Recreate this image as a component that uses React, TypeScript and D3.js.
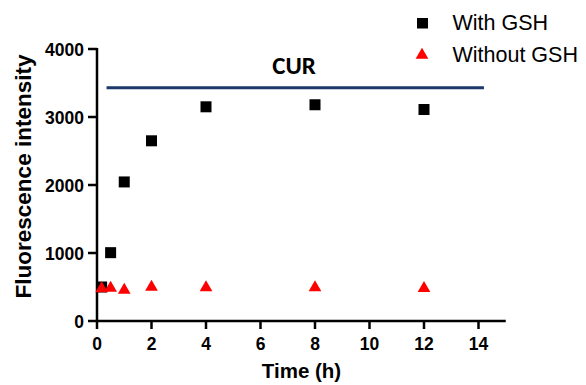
import React from "react";
import * as d3 from "d3";

const times = [0.17, 0.5, 1, 2, 4, 8, 12];
const withGSH = [500, 1005, 2045, 2650, 3150, 3180, 3110];
const withoutGSH = [490, 500, 470, 515, 505, 505, 495];
const xTicks = [0, 2, 4, 6, 8, 10, 12, 14];
const yTicks = [0, 1000, 2000, 3000, 4000];
const curValue = 3430;
const curRange = [0.35, 14.2];
const legendLabels = ["With GSH", "Without GSH"];

const W = 586, H = 385;

export default function App() {
  const x = d3.scaleLinear().domain([0, 15]).range([97, 505.75]);
  const y = d3.scaleLinear().domain([0, 4000]).range([321, 49]);
  const tri = d3.symbol().type(d3.symbolTriangle).size(70)();
  const font = "Arial, 'Liberation Sans', sans-serif";
  return (
    <svg width={W} height={H} style={{ position: "absolute", left: 0, top: 0 }} fontFamily={font}>
      <rect width={W} height={H} fill="#fff" />
      {/* CUR line */}
      <line x1={x(curRange[0])} x2={x(curRange[1])} y1={y(curValue)} y2={y(curValue)} stroke="#1b3a6b" strokeWidth={3} />
      <text x={294} y={74} textAnchor="middle" fontSize={25} fontWeight="bold" fontFamily="Carlito, 'Open Sans', sans-serif">CUR</text>
      {/* axes */}
      <line x1={x(0)} x2={x(0)} y1={y(4000) - 1} y2={y(0) + 1} stroke="#000" strokeWidth={2.5} />
      <line x1={x(0) - 1} x2={x(15)} y1={y(0)} y2={y(0)} stroke="#000" strokeWidth={2.5} />
      {yTicks.map((t) => (
        <g key={t}>
          <line x1={x(0) - 9} x2={x(0)} y1={y(t)} y2={y(t)} stroke="#000" strokeWidth={2.5} />
          <text x={x(0) - 13} y={y(t) + 6.5} textAnchor="end" fontSize={17.5} fontWeight="bold">{t}</text>
        </g>
      ))}
      {xTicks.map((t) => (
        <g key={t}>
          <line x1={x(t)} x2={x(t)} y1={y(0)} y2={y(0) + 8} stroke="#000" strokeWidth={2.5} />
          <text x={x(t)} y={350} textAnchor="middle" fontSize={17.5} fontWeight="bold">{t}</text>
        </g>
      ))}
      <text x={301.5} y={378} textAnchor="middle" fontSize={20.5} fontWeight="bold">Time (h)</text>
      <text transform={`translate(31,176.5) rotate(-90)`} textAnchor="middle" fontSize={22.5} fontWeight="bold">Fluorescence intensity</text>
      {/* data */}
      {times.map((t, i) => (
        <rect key={"s" + i} x={x(t) - 5.5} y={y(withGSH[i]) - 5.5} width={11} height={11} fill="#000" />
      ))}
      {times.map((t, i) => (
        <path key={"t" + i} d={tri} transform={`translate(${x(t)},${y(withoutGSH[i]) + 1})`} fill="#ff0000" />
      ))}
      {/* legend */}
      <rect x={417} y={18} width={11} height={10.5} fill="#000" />
      <text x={452.5} y={30} fontSize={21.5}>{legendLabels[0]}</text>
      <path d={tri} transform={`translate(422,55)`} fill="#ff0000" />
      <text x={452.5} y={61.5} fontSize={21.5}>{legendLabels[1]}</text>
    </svg>
  );
}
